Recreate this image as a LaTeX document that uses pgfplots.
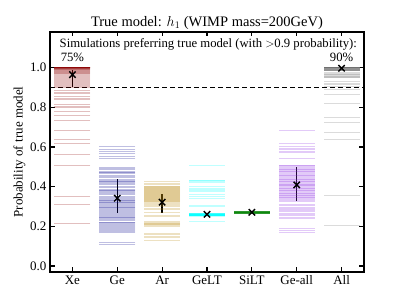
\documentclass[border=0pt]{standalone}
\usepackage{pgfplots}
\pgfplotsset{compat=1.18}
\usepackage{pgfplotstable}
\usepackage{fontspec}
\setmainfont{Liberation Serif}
\definecolor{xecol}{RGB}{139,0,0}
\definecolor{gecol}{RGB}{0,0,139}
\definecolor{arcol}{RGB}{184,134,11}
\definecolor{geltcol}{RGB}{0,255,255}
\definecolor{siltcol}{RGB}{0,128,0}
\definecolor{geallcol}{RGB}{138,43,226}
\definecolor{allcol}{RGB}{110,110,110}

\pgfplotstableread{
v
1.000
1.000
1.000
1.000
1.000
1.000
1.000
1.000
1.000
1.000
1.000
1.000
0.999
0.998
0.997
0.996
0.995
0.993
0.991
0.990
0.988
0.985
0.983
0.980
0.978
0.975
0.972
0.970
0.965
0.960
0.955
0.950
0.947
0.942
0.937
0.932
0.927
0.922
0.917
0.912
0.907
0.902
0.885
0.875
0.870
0.855
0.846
0.838
0.813
0.805
0.801
0.780
0.758
0.737
0.683
0.640
0.620
0.564
0.510
0.350
0.310
0.214
}\xedata

\pgfplotstableread{
v
0.603
0.586
0.578
0.569
0.555
0.544
0.500
0.492
0.485
0.478
0.471
0.471
0.465
0.458
0.450
0.445
0.438
0.430
0.427
0.425
0.422
0.418
0.410
0.402
0.395
0.388
0.384
0.383
0.378
0.372
0.365
0.360
0.352
0.345
0.340
0.335
0.331
0.330
0.327
0.322
0.320
0.318
0.312
0.305
0.300
0.298
0.295
0.290
0.285
0.282
0.278
0.272
0.268
0.262
0.255
0.250
0.247
0.246
0.240
0.235
0.230
0.222
0.220
0.215
0.210
0.205
0.200
0.195
0.190
0.185
0.180
0.175
0.170
0.120
0.110
}\gedata

\pgfplotstableread{
v
0.426
0.418
0.410
0.403
0.400
0.398
0.395
0.392
0.390
0.387
0.385
0.382
0.380
0.378
0.375
0.372
0.370
0.367
0.365
0.362
0.360
0.357
0.355
0.352
0.350
0.347
0.345
0.342
0.340
0.337
0.335
0.332
0.330
0.327
0.325
0.320
0.315
0.310
0.305
0.300
0.290
0.285
0.270
0.256
0.250
0.224
0.220
0.217
0.214
0.211
0.208
0.205
0.202
0.165
0.158
0.150
0.143
0.132
}\ardata

\pgfplotstableread{
v
0.510
0.434
0.430
0.425
0.420
0.404
0.394
0.388
0.380
0.375
0.359
0.350
0.342
0.308
0.300
0.225
0.253
0.254
0.254
0.255
0.255
0.256
0.256
0.257
0.257
0.258
0.258
0.259
0.259
0.260
0.260
0.261
0.261
0.262
0.262
0.263
0.263
0.264
0.264
0.265
0.265
0.266
}\geltdata

\pgfplotstableread{
v
0.266
0.266
0.267
0.267
0.268
0.268
0.269
0.269
0.270
0.270
0.271
0.271
0.272
0.272
0.273
0.273
0.274
0.274
0.275
0.275
0.276
0.276
}\siltdata

\pgfplotstableread{
v
0.685
0.620
0.602
0.595
0.588
0.580
0.572
0.545
0.510
0.507
0.505
0.500
0.495
0.490
0.485
0.480
0.478
0.475
0.470
0.466
0.462
0.458
0.455
0.450
0.446
0.442
0.438
0.435
0.432
0.428
0.425
0.420
0.416
0.412
0.410
0.408
0.405
0.400
0.396
0.392
0.390
0.388
0.384
0.380
0.376
0.372
0.368
0.364
0.360
0.358
0.356
0.352
0.348
0.344
0.340
0.336
0.330
0.325
0.312
0.305
0.298
0.292
0.285
0.280
0.275
0.268
0.262
0.255
0.248
0.240
0.190
0.182
0.170
}\geall

\pgfplotstableread{
v
1.000
1.000
1.000
1.000
1.000
1.000
1.000
1.000
1.000
1.000
1.000
1.000
1.000
1.000
0.999
0.998
0.997
0.996
0.995
0.994
0.993
0.992
0.991
0.990
0.989
0.988
0.987
0.986
0.985
0.975
0.972
0.968
0.965
0.962
0.958
0.955
0.952
0.950
0.930
0.920
0.914
0.905
0.893
0.864
0.818
0.749
0.726
0.673
0.640
0.354
0.204
}\alldata

\pgfplotsset{
  strip/.style={only marks, mark=-, mark size=18pt,
    mark options={draw=#1, line width=0.7pt, opacity=0.25}},
  meanpt/.style={only marks, mark=x, mark size=4.5pt,
    mark options={black, line width=1.4pt},
    error bars/.cd, y dir=both, y explicit,
    error bar style={line width=1.4pt, black}, error mark=none},
}

\begin{document}
\begin{tikzpicture}
\useasboundingbox (0,0) rectangle (405pt,304pt);
\begin{axis}[
  at={(50pt,32pt)}, anchor=south west,
  width=314pt, height=240pt, scale only axis,
  xmin=-0.5, xmax=6.5, ymin=-0.03, ymax=1.18,
  xtick={0,1,2,3,4,5,6},
  xticklabels={Xe,Ge,Ar,GeLT,SiLT,Ge-all,All},
  ytick={0,0.2,0.4,0.6,0.8,1.0},
  yticklabel style={/pgf/number format/fixed, /pgf/number format/fixed zerofill, /pgf/number format/precision=1},
  /pgf/number format/assume math mode=true,
  tick align=inside, major tick length=4.5pt,
  axis line style={line width=1.1pt},
  every tick/.style={line width=1.1pt, black},
  tick label style={font=\fontsize{13}{15}\selectfont},
  label style={font=\fontsize{13}{15}\selectfont},
  ylabel={Probability of true model},
  ylabel style={yshift=-2pt},
  title={True model: $h_1$ (WIMP mass=200GeV)},
  title style={font=\fontsize{14.5}{16}\selectfont, yshift=-7pt},
  clip=false,
]
\addplot[strip=xecol] table[x expr=0, y=v] {\xedata};
\addplot[strip=gecol] table[x expr=1, y=v] {\gedata};
\addplot[strip=arcol] table[x expr=2, y=v] {\ardata};
\addplot[strip=geltcol] table[x expr=3, y=v] {\geltdata};
\addplot[strip=siltcol] table[x expr=4, y=v] {\siltdata};
\addplot[strip=geallcol] table[x expr=5, y=v] {\geall};
\addplot[strip=allcol] table[x expr=6, y=v] {\alldata};

\addplot[black, line width=1.2pt, dash pattern=on 5pt off 3pt] coordinates {(-0.5,0.9) (6.5,0.9)};

\addplot[meanpt] coordinates {
  (0,0.965) += (0,0.025) -= (0,0.06)
  (1,0.342) += (0,0.096) -= (0,0.076)
  (2,0.322) += (0,0.042) -= (0,0.053)
  (3,0.261) += (0,0.004) -= (0,0.004)
  (4,0.271) += (0,0.002) -= (0,0.002)
  (5,0.409) += (0,0.088) -= (0,0.079)
  (6,0.997) += (0,0.003) -= (0,0.006)
};

\node[font=\fontsize{12.7}{15}\selectfont] at (axis cs:3.03,1.116) {Simulations preferring true model (with $>$0.9 probability):};
\node[font=\fontsize{12.7}{15}\selectfont] at (axis cs:0,1.05) {75\%};
\node[font=\fontsize{12.7}{15}\selectfont] at (axis cs:6,1.05) {90\%};
\end{axis}
\end{tikzpicture}
\end{document}
